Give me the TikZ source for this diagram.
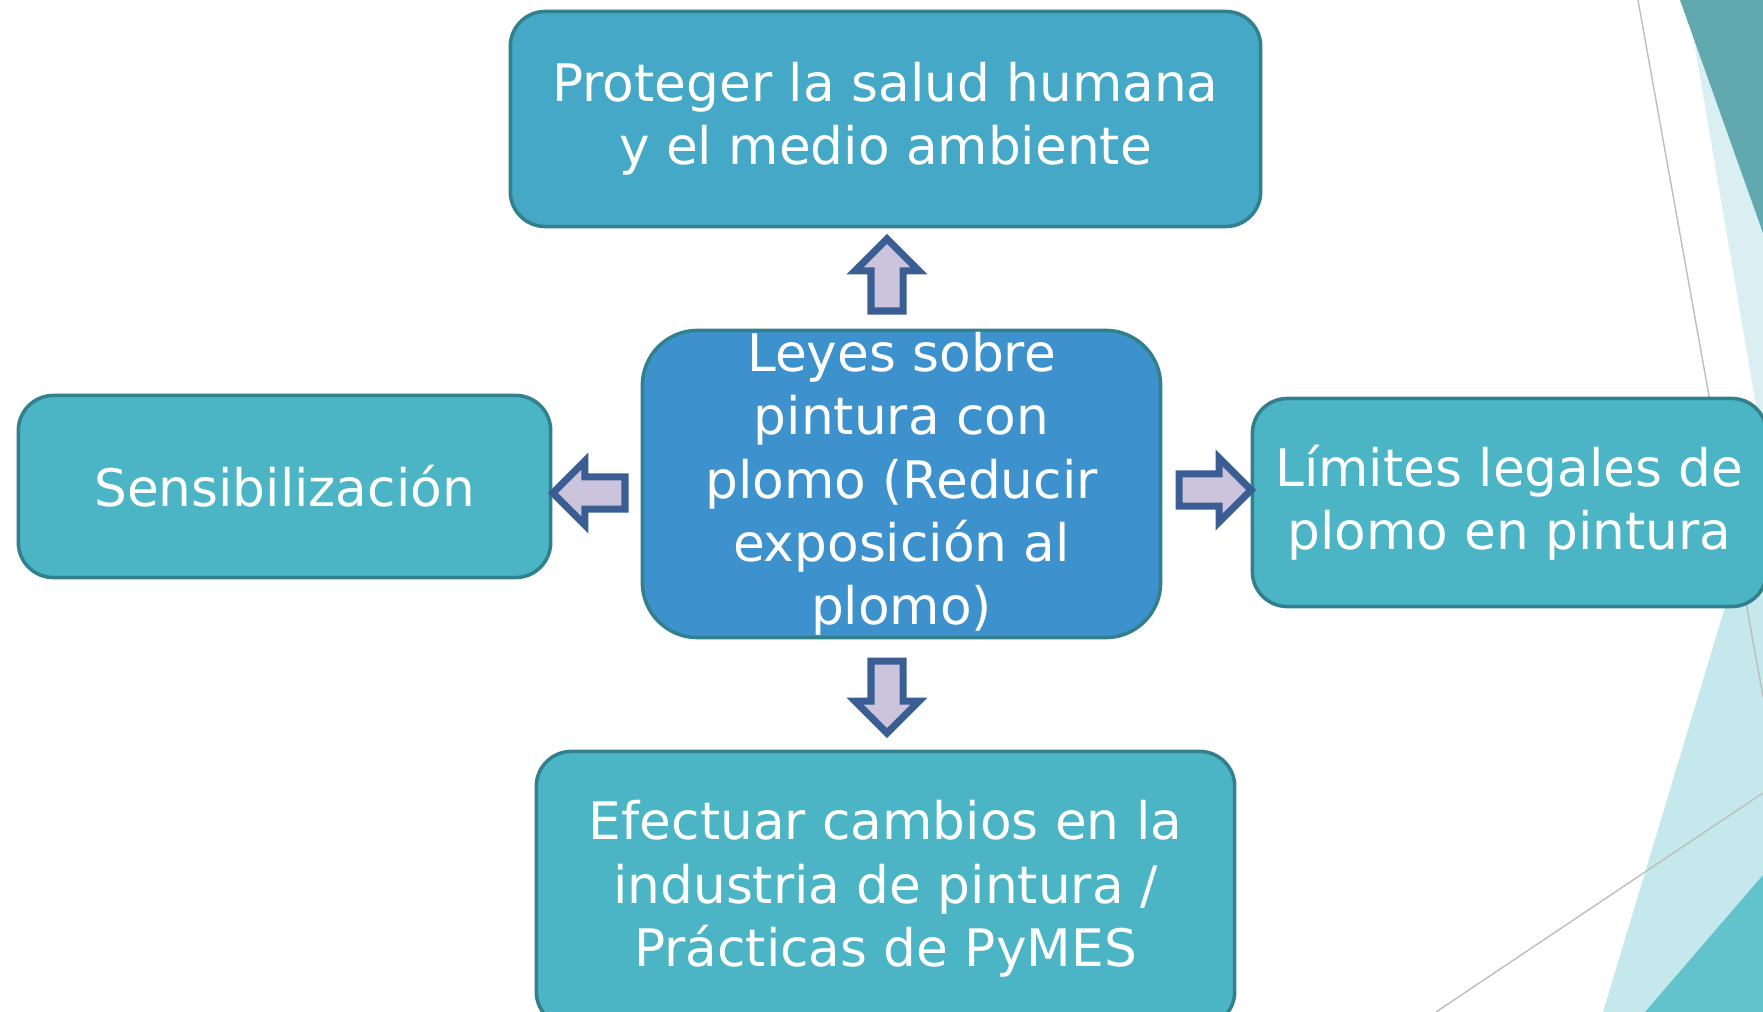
\documentclass[tikz,border=0pt]{standalone}
\usepackage{fontspec}
\setmainfont{DejaVu Sans}
\usetikzlibrary{shapes.arrows}

\definecolor{goalfill}{RGB}{69,168,198}
\definecolor{sidefill}{RGB}{75,180,197}
\definecolor{corefill}{RGB}{61,145,205}
\definecolor{boxline}{RGB}{49,128,140}
\definecolor{arrowfill}{RGB}{204,196,220}
\definecolor{arrowline}{RGB}{58,94,148}
\definecolor{darkwedge}{RGB}{98,168,175}
\definecolor{lightwedge}{RGB}{218,239,242}
\definecolor{paleband}{RGB}{197,232,236}
\definecolor{midwedge}{RGB}{99,195,204}
\definecolor{rulegray}{RGB}{190,190,190}

\begin{document}
\begin{tikzpicture}[
        x=0.01cm, y=-0.01cm,
        box/.style={rectangle, draw=boxline, line width=1pt, fill=sidefill, rounded corners=0.35cm, text=white, align=center, inner sep=0pt, font=\fontsize{14.7pt}{18pt}\selectfont},
        block_arrow/.style={single arrow, draw=arrowline, fill=arrowfill, line width=2pt, inner sep=0.125cm, single arrow head extend=0.16cm, minimum height=0.72cm, minimum width=0.57cm, anchor=tail},
        thin_rule/.style={draw=rulegray, line width=0.4pt}
    ]
        % page and background wedges
        \clip (0,0) rectangle (1763,1012);
        \fill[white] (0,0) rectangle (1763,1012);
        \fill[lightwedge] (1687,0) -- (1763,0) -- (1763,447) -- cycle;
        \fill[darkwedge] (1680,0) -- (1763,0) -- (1763,233) -- cycle;
        \fill[paleband] (1763,481) -- (1603,1012) -- (1763,1012) -- cycle;
        \fill[midwedge] (1645,1012) -- (1763,875) -- (1763,1012) -- cycle;
        \draw[thin_rule] (1638,0) -- (1763,697);
        \draw[thin_rule] (1436,1012) -- (1763,793);

        % Boxes
        \node[box, fill=goalfill, minimum width=7.5cm, minimum height=2.15cm] (goal_box) at (885.5,119) {Proteger la salud humana\\y el medio ambiente};
        \node[box, fill=corefill, rounded corners=0.55cm, minimum width=5.18cm, minimum height=3.07cm] (law_box) at (901.5,484) {Leyes sobre\\pintura con\\plomo (Reducir\\exposición al\\plomo)};
        \node[box, minimum width=5.32cm, minimum height=1.82cm] (aware_box) at (284.5,486.5) {Sensibilización};
        \node[box, minimum width=5.14cm, minimum height=2.08cm] (limit_box) at (1509.5,502.5) {Límites legales de\\plomo en pintura};
        \node[box, minimum width=6.98cm, minimum height=2.75cm] (change_box) at (885.5,889) {Efectuar cambios en la\\industria de pintura /\\Prácticas de PyMES};

        % Block arrows
        \node[block_arrow, rotate=90] (up_arrow) at (887,314.5) {};
        \node[block_arrow, rotate=-90] (down_arrow) at (887,657.5) {};
        \node[block_arrow, rotate=180] (left_arrow) at (628.5,493) {};
        \node[block_arrow] (right_arrow) at (1175.5,490) {};
    \end{tikzpicture}
\end{document}
